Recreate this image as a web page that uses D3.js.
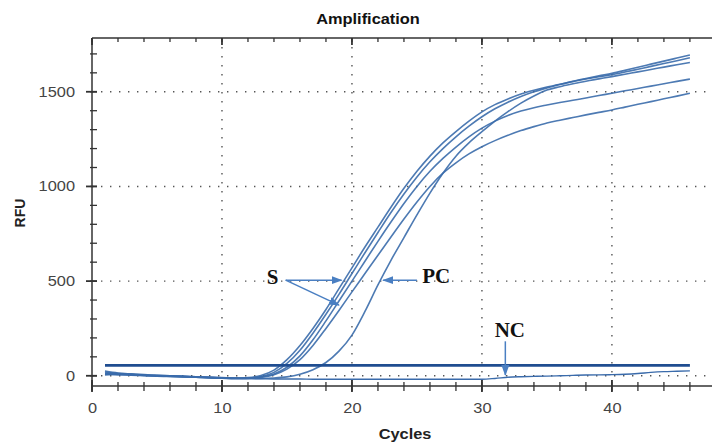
<!DOCTYPE html>
<html>
<head>
<meta charset="utf-8">
<script src="https://cdn.jsdelivr.net/npm/d3@7"></script>
<style>
body { margin: 0; background: #fff; }
svg { display: block; }
</style>
</head>
<body>
<script>
// cycles and RFU readings
var cycles = [1,2,3,4,5,6,7,8,9,10,11,12,13,14,15,16,17,18,19,20,21,22,23,24,25,26,27,28,29,30,31,32,33,34,35,36,37,38,39,40,41,42,43,44,45,46];
var s1 = [20,12,8,4,2,0,-3,-6,-9,-11,-13,-10,2,30,85,160,250,350,460,570,680,785,890,990,1080,1160,1230,1290,1345,1394,1432,1462,1488,1508,1525,1540,1554,1567,1579,1590,1604,1619,1634,1649,1664,1680];
var s2 = [5,8,6,3,0,-2,-5,-8,-11,-13,-15,-13,-4,18,65,135,225,325,430,540,650,757,862,960,1050,1130,1200,1262,1318,1368,1410,1445,1475,1500,1520,1538,1555,1570,1584,1597,1613,1630,1646,1662,1678,1694];
var s3 = [25,15,10,6,3,0,-2,-5,-8,-10,-12,-12,-6,10,45,105,190,290,395,500,605,710,812,910,1000,1080,1148,1208,1262,1308,1345,1375,1398,1416,1430,1443,1455,1467,1480,1492,1505,1517,1530,1542,1555,1567];
var s4 = [10,5,3,0,-2,-4,-6,-8,-10,-12,-14,-14,-9,5,35,85,160,250,345,443,540,637,733,828,918,1000,1070,1125,1172,1210,1242,1270,1295,1316,1335,1350,1364,1378,1391,1404,1419,1434,1448,1463,1477,1492];
var pc = [15,10,6,2,0,-3,-5,-7,-9,-11,-13,-14,-14,-12,-6,8,32,70,130,215,340,480,610,730,850,965,1070,1160,1230,1289,1345,1395,1440,1478,1509,1527,1542,1556,1568,1580,1593,1605,1618,1630,1643,1655];
var nc = [10,8,5,2,0,-2,-4,-6,-8,-10,-13,-15,-16,-17,-17,-17,-18,-18,-18,-18,-18,-18,-18,-18,-18,-18,-18,-18,-18,-18,-14,-8,-5,-3,-2,0,2,4,5,6,8,12,18,22,24,26];
var threshold = 55;

var xMajor = [0, 10, 20, 30, 40];
var xMinor = [0,2,4,6,8,10,12,14,16,18,20,22,24,26,28,30,32,34,36,38,40,42,44,46];
var yMajor = [0, 500, 1000, 1500];
var yMinor = [0,100,200,300,400,500,600,700,800,900,1000,1100,1200,1300,1400,1500,1600,1700];

var width = 712;
var height = 443;
var padding = { top: 38, right: 0, bottom: 57, left: 92 };
var plotW = width - padding.left - padding.right;
var plotH = height - padding.top - padding.bottom;
var stretch = 1.17;
var sans = "Arial, 'Liberation Sans', sans-serif";
var serif = "'Liberation Serif', 'Times New Roman', serif";

var svg = d3.select("body").append("svg")
    .attr("width", width)
    .attr("height", height);

var defs = svg.append("defs");
defs.append("marker")
    .attr("id", "head")
    .attr("markerUnits", "userSpaceOnUse")
    .attr("markerWidth", 12).attr("markerHeight", 10)
    .attr("refX", 10).attr("refY", 0)
    .attr("viewBox", "0 -5 12 10")
    .attr("orient", "auto")
  .append("path")
    .attr("d", "M0,-4L11,0L0,4Z")
    .attr("fill", "#4a7fc2");

var xScale = d3.scaleLinear().domain([0, 47.7]).range([0, plotW]);
var yScale = d3.scaleLinear().domain([-54, 1784]).range([plotH, 0]);

var g = svg.append("g")
    .attr("transform", "translate(" + padding.left + "," + padding.top + ")");

// dotted grid
g.selectAll(".gx").data(xMajor.slice(1)).enter().append("line")
    .attr("x1", function(d) { return xScale(d); })
    .attr("x2", function(d) { return xScale(d); })
    .attr("y1", 0).attr("y2", plotH)
    .attr("stroke", "#555").attr("stroke-width", 1.4)
    .attr("stroke-dasharray", "1.4,7.6");
g.selectAll(".gy").data(yMajor).enter().append("line")
    .attr("y1", function(d) { return yScale(d); })
    .attr("y2", function(d) { return yScale(d); })
    .attr("x1", 0).attr("x2", plotW)
    .attr("stroke", "#555").attr("stroke-width", 1.4)
    .attr("stroke-dasharray", "1.4,7.6");

// curves
var line = d3.line()
    .x(function(d, i) { return xScale(cycles[i]); })
    .y(function(d) { return yScale(d); })
    .curve(d3.curveMonotoneX);

var series = [s1, s2, s3, s4, pc];
g.selectAll(".curve").data(series).enter().append("path")
    .attr("class", "curve")
    .attr("d", line)
    .attr("fill", "none")
    .attr("stroke", "#3a6bab")
    .attr("stroke-width", 1.6)
    .attr("stroke-opacity", 0.9);

g.append("path")
    .attr("d", line(nc))
    .attr("fill", "none")
    .attr("stroke", "#3a6bab")
    .attr("stroke-width", 1.4);

// threshold
g.append("line")
    .attr("x1", xScale(cycles[0]))
    .attr("x2", xScale(cycles[cycles.length - 1]))
    .attr("y1", yScale(threshold)).attr("y2", yScale(threshold))
    .attr("stroke", "#1f4d90")
    .attr("stroke-width", 2.6);

// frame lines
g.append("line").attr("x1", 0).attr("x2", plotW).attr("y1", 0).attr("y2", 0)
    .attr("stroke", "#333").attr("stroke-width", 1.5);
g.append("line").attr("x1", 0).attr("x2", plotW).attr("y1", plotH).attr("y2", plotH)
    .attr("stroke", "#666").attr("stroke-width", 2);
g.append("line").attr("x1", 0).attr("x2", 0).attr("y1", 0).attr("y2", plotH + 4)
    .attr("stroke", "#333").attr("stroke-width", 1.5);

// ticks
function ticksX(data, y1, y2, w) {
    g.selectAll(null).data(data).enter().append("line")
        .attr("x1", function(d) { return xScale(d); })
        .attr("x2", function(d) { return xScale(d); })
        .attr("y1", y1).attr("y2", y2)
        .attr("stroke", "#333").attr("stroke-width", w);
}
ticksX(xMinor, plotH - 4, plotH + 5, 1.3);
ticksX(xMajor, plotH - 6, plotH + 6, 1.8);
ticksX(xMinor, 0, 4, 1.3);
ticksX(xMajor, 0, 7, 1.8);

g.selectAll(null).data(yMinor).enter().append("line")
    .attr("y1", function(d) { return yScale(d); })
    .attr("y2", function(d) { return yScale(d); })
    .attr("x1", -2).attr("x2", 5)
    .attr("stroke", "#333").attr("stroke-width", 1.3);
g.selectAll(null).data(yMajor).enter().append("line")
    .attr("y1", function(d) { return yScale(d); })
    .attr("y2", function(d) { return yScale(d); })
    .attr("x1", -6).attr("x2", 5)
    .attr("stroke", "#333").attr("stroke-width", 1.8);

// axis labels
var xAxis = d3.axisBottom(xScale).tickValues(xMajor).tickSize(0).tickPadding(17)
    .tickFormat(d3.format("d"));
var xAxisG = g.append("g")
    .attr("transform", "translate(0," + plotH + ")")
    .call(xAxis);
var yAxis = d3.axisLeft(yScale).tickValues(yMajor).tickSize(0).tickPadding(0)
    .tickFormat(d3.format("d"));
var yAxisG = g.append("g").call(yAxis);

xAxisG.select(".domain").remove();
yAxisG.select(".domain").remove();
xAxisG.selectAll("text")
    .style("font-size", "14px").style("font-family", sans)
    .attr("fill", "#444")
    .attr("transform", "scale(" + stretch + ",1)");
yAxisG.selectAll("text")
    .style("font-size", "14px").style("font-family", sans)
    .attr("fill", "#444")
    .attr("x", -17 / stretch)
    .attr("transform", "scale(" + stretch + ",1)");

// titles
svg.append("text")
    .attr("transform", "translate(368,24) scale(" + stretch + ",1)")
    .attr("text-anchor", "middle")
    .style("font-family", sans).style("font-size", "14px").style("font-weight", "bold")
    .attr("fill", "#111")
    .text("Amplification");
svg.append("text")
    .attr("transform", "translate(405,439) scale(" + stretch + ",1)")
    .attr("text-anchor", "middle")
    .style("font-family", sans).style("font-size", "14px").style("font-weight", "bold")
    .attr("fill", "#222")
    .text("Cycles");
svg.append("text")
    .attr("transform", "translate(25,213) rotate(-90)")
    .attr("text-anchor", "middle")
    .style("font-family", sans).style("font-size", "14px").style("font-weight", "bold")
    .attr("fill", "#222")
    .text("RFU");

// annotations
function note(txt, cx, v, anchor) {
    g.append("text")
        .attr("x", xScale(cx)).attr("y", yScale(v))
        .attr("text-anchor", anchor)
        .style("font-family", serif).style("font-size", "21px").style("font-weight", "bold")
        .attr("fill", "#111")
        .text(txt);
}
function arrow(c1, v1, c2, v2) {
    g.append("line")
        .attr("x1", xScale(c1)).attr("y1", yScale(v1))
        .attr("x2", xScale(c2)).attr("y2", yScale(v2))
        .attr("stroke", "#4a7fc2").attr("stroke-width", 1.5)
        .attr("marker-end", "url(#head)");
}
note("S", 13.9, 484, "middle");
arrow(14.9, 505, 19.2, 505);
arrow(14.9, 505, 19.0, 373);
note("PC", 25.4, 490, "start");
arrow(25.0, 505, 22.4, 505);
note("NC", 32.15, 204, "middle");
arrow(31.8, 182, 31.8, 4);
</script>
</body>
</html>
